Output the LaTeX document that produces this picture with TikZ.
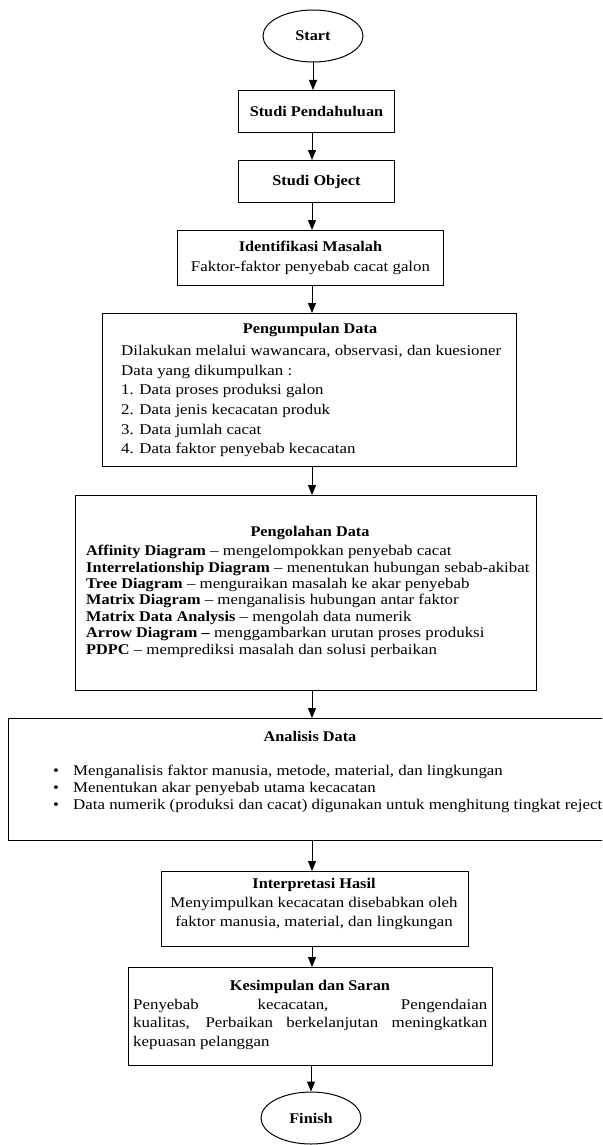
\documentclass[tikz,border=0pt]{standalone}
\usepackage{fontspec}
\setmainfont{Liberation Serif}[FakeStretch=1.14,BoldFeatures={FakeStretch=1.10}]
\usetikzlibrary{shapes.geometric,arrows.meta}
\begin{document}
\begin{tikzpicture}[x=1pt,y=-1pt,
  fs/.style={font=\fontsize{14.8}{16.6}\selectfont},
  box/.style={draw,line width=1pt,rectangle,inner sep=0pt,anchor=north west},
  term/.style={draw,line width=1pt,ellipse,minimum width=100pt,minimum height=52pt,inner sep=0pt,font=\fontsize{14.8}{16.6}\selectfont\bfseries},
  txt/.style={inner sep=0pt,align=left,anchor=north west},
  ttl/.style={inner sep=0pt,anchor=center,font=\fontsize{14.8}{16.6}\selectfont\bfseries},
  arr/.style={line width=1pt,-{Triangle[width=8pt,length=10pt]}}]
\clip (0,0) rectangle (602,1145);
\fill[white] (0,0) rectangle (602,1145);
\coordinate (ax) at (312,0);
% terminals
\node[term] (start) at (313,36) {Start};
\node[term] (finish) at (311,1118) {Finish};
% boxes
\node[box,minimum width=156pt,minimum height=42pt,font=\fontsize{14.8}{16.6}\selectfont\bfseries] (b1) at (238,90) {Studi Pendahuluan};
\node[box,minimum width=156pt,minimum height=42pt,font=\fontsize{14.8}{16.6}\selectfont\bfseries] (b2) at (238,160) {Studi Object};
\node[box,minimum width=266pt,minimum height=55pt,font=\fontsize{14.8}{20}\selectfont,align=center] (b3) at (177,230) {\textbf{Identifikasi Masalah}\\Faktor-faktor penyebab cacat galon};
\node[box,minimum width=414pt,minimum height=153pt] (b4) at (102,313) {};
\node[box,minimum width=461pt,minimum height=195pt] (b5) at (75,495) {};
\node[box,minimum width=610pt,minimum height=122pt] (b6) at (8,718) {};
\node[box,minimum width=307pt,minimum height=75pt] (b7) at (161,871) {};
\node[box,minimum width=364pt,minimum height=98pt] (b8) at (128,967) {};
% texts
\node[ttl] (t4) at (310,330) {Pengumpulan Data};
\node[txt,font=\fontsize{14.8}{19.7}\selectfont] (t4b) at (121,345) {Dilakukan melalui wawancara, observasi, dan kuesioner\\Data yang dikumpulkan :\\1. Data proses produksi galon\\2. Data jenis kecacatan produk\\3. Data jumlah cacat\\4. Data faktor penyebab kecacatan};
\node[ttl] (t5) at (310,533) {Pengolahan Data};
\node[txt,font=\fontsize{14.8}{16.4}\selectfont] (t5b) at (86,545) {\textbf{Affinity Diagram} -- mengelompokkan penyebab cacat\\\textbf{Interrelationship Diagram} -- menentukan hubungan sebab-akibat\\\textbf{Tree Diagram} -- menguraikan masalah ke akar penyebab\\\textbf{Matrix Diagram} -- menganalisis hubungan antar faktor\\\textbf{Matrix Data Analysis} -- mengolah data numerik\\\textbf{Arrow Diagram --} menggambarkan urutan proses produksi\\\textbf{PDPC} -- memprediksi masalah dan solusi perbaikan};
\node[ttl] (t6) at (310,736) {Analisis Data};
\node[txt,font=\fontsize{14.8}{17}\selectfont] (t6b) at (53,765) {\makebox[20pt][l]{\textbullet}Menganalisis faktor manusia, metode, material, dan lingkungan\\\makebox[20pt][l]{\textbullet}Menentukan akar penyebab utama kecacatan\\\makebox[20pt][l]{\textbullet}Data numerik (produksi dan cacat) digunakan untuk menghitung tingkat reject};
\node[txt,align=center,anchor=north,font=\fontsize{14.8}{19}\selectfont] (t7) at (314,878) {\textbf{Interpretasi Hasil}\\Menyimpulkan kecacatan disebabkan oleh\\faktor manusia, material, dan lingkungan};
\node[ttl] (t8) at (310,987) {Kesimpulan dan Saran};
\node[txt,font=\fontsize{14.8}{18.5}\selectfont] (t8b) at (133,999) {\makebox[354pt][s]{Penyebab kecacatan, Pengendaian}\\\makebox[354pt][s]{kualitas, Perbaikan berkelanjutan meningkatkan}\\kepuasan pelanggan};
% arrows
\draw[arr] (start.south) -- (b1.north -| start);
\draw[arr] (b1.south -| ax) -- (b2.north -| ax);
\draw[arr] (b2.south -| ax) -- (b3.north -| ax);
\draw[arr] (b3.south -| ax) -- (b4.north -| ax);
\draw[arr] (b4.south -| ax) -- (b5.north -| ax);
\draw[arr] (b5.south -| ax) -- (b6.north -| ax);
\draw[arr] (b6.south -| ax) -- (b7.north -| ax);
\draw[arr] (b7.south -| ax) -- (b8.north -| ax);
\draw[arr] (b8.south -| finish) -- (finish.north);
\end{tikzpicture}
\end{document}
